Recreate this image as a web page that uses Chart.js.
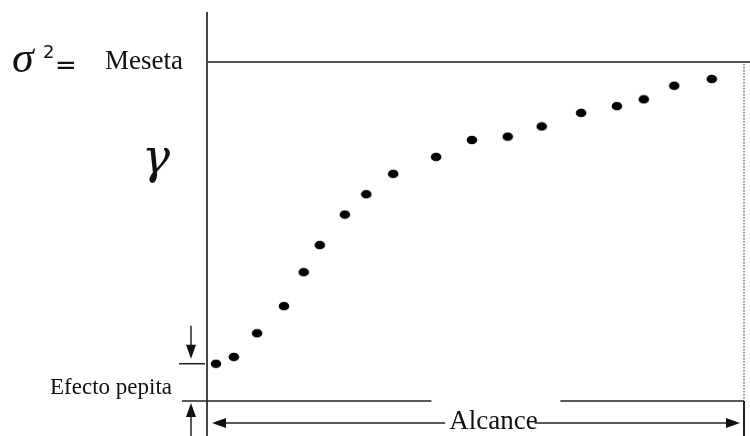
<!DOCTYPE html>
<html>
<head>
<meta charset="utf-8">
<script src="https://cdn.jsdelivr.net/npm/chart.js@4"></script>
<style>
  body { margin: 0; background: #fff; }
  canvas { display: block; }
</style>
</head>
<body>
<canvas id="variograma" width="750" height="436"></canvas>
<script>
const distancia = [0.5, 1.5, 2.8, 4.3, 5.4, 6.3, 7.7, 8.9, 10.4, 12.8, 14.8, 16.8, 18.7, 20.9, 22.9, 24.4, 26.1, 28.2];
const gamma = [1.1, 1.3, 2.0, 2.8, 3.8, 4.6, 5.5, 6.1, 6.7, 7.2, 7.7, 7.8, 8.1, 8.5, 8.7, 8.9, 9.3, 9.5];

const meseta = 10;
const pepita = 1.1;
const alcance = 30;

const etiquetas = ['Meseta', 'Efecto pepita', 'Alcance'];

const serif = "'Liberation Serif', 'Times New Roman', serif";

// punto ligeramente ovalado como en la figura
const punto = document.createElement('canvas');
punto.width = 12; punto.height = 10;
(function () {
  const c = punto.getContext('2d');
  c.fillStyle = '#000';
  c.beginPath();
  c.ellipse(6, 5, 5.3, 4.3, 0, 0, Math.PI * 2);
  c.fill();
})();

function flecha(ctx, x, y, dir) {
  const l = 14, w = 5;
  ctx.beginPath();
  ctx.moveTo(x, y);
  if (dir === 'down') { ctx.lineTo(x - w, y - l); ctx.lineTo(x + w, y - l); }
  if (dir === 'up') { ctx.lineTo(x - w, y + l); ctx.lineTo(x + w, y + l); }
  if (dir === 'left') { ctx.lineTo(x + l, y - w); ctx.lineTo(x + l, y + w); }
  if (dir === 'right') { ctx.lineTo(x - l, y - w); ctx.lineTo(x - l, y + w); }
  ctx.closePath();
  ctx.fill();
}

function linea(ctx, x1, y1, x2, y2) {
  ctx.beginPath();
  ctx.moveTo(x1, y1);
  ctx.lineTo(x2, y2);
  ctx.stroke();
}

// texto estirado a un ancho dado
function textoAncho(ctx, txt, x, y, ancho) {
  const w = ctx.measureText(txt).width;
  ctx.save();
  ctx.translate(x, y);
  ctx.scale(ancho / w, 1);
  ctx.fillText(txt, 0, 0);
  ctx.restore();
}

const anotaciones = {
  id: 'anotaciones',
  beforeDatasetsDraw(chart) {
    const ctx = chart.ctx;
    const sx = chart.scales.x, sy = chart.scales.y;
    const x0 = sx.getPixelForValue(0);
    const xa = sx.getPixelForValue(alcance);
    const y0 = sy.getPixelForValue(0);
    const ym = sy.getPixelForValue(meseta);
    const yp = sy.getPixelForValue(pepita);
    const H = chart.height, W = chart.width;

    ctx.save();
    ctx.lineCap = 'butt';

    // eje vertical
    ctx.strokeStyle = '#444';
    ctx.lineWidth = 2;
    linea(ctx, x0, 12, x0, H);

    // meseta
    ctx.strokeStyle = '#555';
    linea(ctx, x0, ym, W, ym);

    // alcance punteado
    ctx.strokeStyle = '#777';
    ctx.lineWidth = 1.5;
    ctx.setLineDash([1.5, 1.5]);
    linea(ctx, xa, ym + 2, xa, y0 - 2);
    ctx.setLineDash([]);

    // texto Alcance
    ctx.fillStyle = '#111';
    ctx.font = '27px ' + serif;
    const xc = sx.getPixelForValue(16);
    const wa = ctx.measureText(etiquetas[2]).width;
    ctx.textAlign = 'center';
    ctx.fillText(etiquetas[2], xc, y0 + 28);

    // base y=0 con hueco
    ctx.strokeStyle = '#222';
    ctx.lineWidth = 1.5;
    linea(ctx, x0 - 25, y0, xc - 62, y0);
    linea(ctx, xc + 67, y0, xa, y0);
    ctx.lineWidth = 2;
    linea(ctx, xa, y0, xa, H);

    // flecha del alcance
    const ya = y0 + 22;
    ctx.lineWidth = 1.5;
    linea(ctx, x0 + 8, ya, xc - wa / 2 - 4, ya);
    linea(ctx, xc + wa / 2 - 3, ya, xa - 8, ya);
    ctx.fillStyle = '#111';
    flecha(ctx, x0 + 5, ya, 'left');
    flecha(ctx, xa - 4, ya, 'right');

    // efecto pepita
    const xf = x0 - 16;
    linea(ctx, x0 - 28, yp, x0 - 2, yp);
    linea(ctx, xf, yp - 38, xf, yp - 10);
    flecha(ctx, xf, yp - 5, 'down');
    linea(ctx, xf, H, xf, y0 + 10);
    flecha(ctx, xf, y0 + 2, 'up');

    // textos
    ctx.fillStyle = '#111';
    ctx.textAlign = 'right';
    ctx.font = '23px ' + serif;
    ctx.fillText(etiquetas[1], 172, 394);

    ctx.textAlign = 'left';
    ctx.font = '27px ' + serif;
    ctx.fillText(etiquetas[0], 105, ym + 7);

    ctx.font = 'italic 44px ' + serif;
    ctx.fillText('σ', 12, 72);
    ctx.font = "18px 'DejaVu Sans', sans-serif";
    ctx.fillText('2', 43, 58);
    ctx.font = "26px 'DejaVu Sans', sans-serif";
    ctx.fillText('=', 55, 74);

    ctx.font = "italic 48px 'DejaVu Serif', serif";
    textoAncho(ctx, 'γ', 142, 173, 28);

    ctx.restore();
  }
};

new Chart(document.getElementById('variograma'), {
  type: 'scatter',
  data: {
    datasets: [{
      label: 'γ(h)',
      data: distancia.map((d, i) => ({ x: d, y: gamma[i] })),
      backgroundColor: '#000',
      borderColor: '#000',
      pointStyle: punto,
      pointRadius: 5,
      clip: false
    }]
  },
  options: {
    responsive: false,
    animation: false,
    layout: { padding: { left: 207, top: 62, right: 3, bottom: 35 } },
    scales: {
      x: { type: 'linear', min: 0, max: alcance, display: false },
      y: { type: 'linear', min: 0, max: meseta, display: false }
    },
    plugins: {
      legend: { display: false },
      tooltip: { enabled: false }
    }
  },
  plugins: [anotaciones]
});
</script>
</body>
</html>
